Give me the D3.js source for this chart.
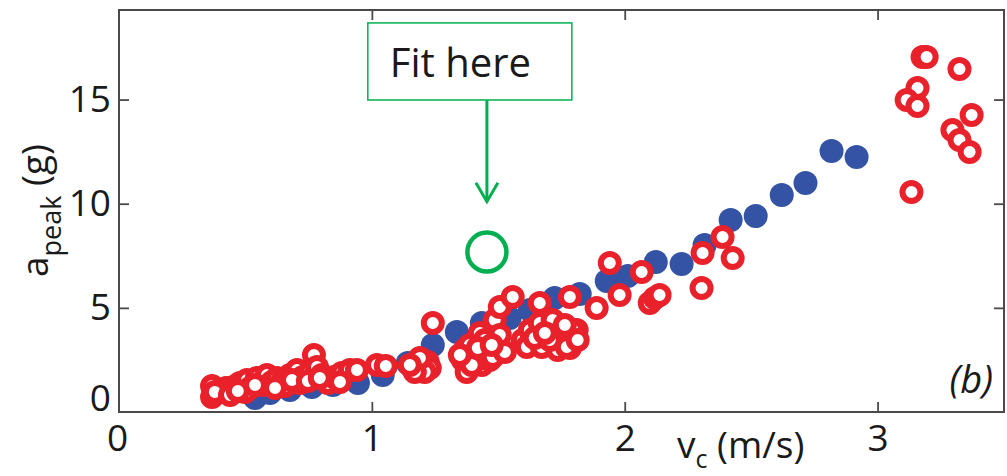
<!DOCTYPE html>
<html>
<head>
<meta charset="utf-8">
<script src="https://cdn.jsdelivr.net/npm/d3@7"></script>
<style>
  html, body { margin: 0; padding: 0; background: #fff; }
  svg { display: block; }
  text { font-family: "Open Sans", sans-serif; fill: #1a1a1a; }
</style>
</head>
<body>
<svg id="chart" width="1007" height="476"></svg>
<script>
// ---- data ----
const xTicks = [0, 1, 2, 3];
const yTicks = [0, 5, 10, 15];
const xDomain = [0, 3.5];
const yDomain = [0, 19.3];

// filled blue series [v_c, a_peak]
const blueX = [0.538,0.597,0.676,0.763,0.846,0.945,1.043,1.142,1.241,1.336,1.435,1.545,1.625,1.723,1.822,1.929,2.012,2.123,2.225,2.316,2.419,2.518,2.621,2.715,2.818,2.917];
const blueY = [0.67,0.91,1.06,1.20,1.30,1.39,1.78,2.35,3.22,3.84,4.27,4.51,4.90,5.47,5.66,6.29,6.53,7.20,7.11,8.02,9.22,9.41,10.42,10.99,12.53,12.24];

// open red series [v_c, a_peak]
const redX = [0.368,0.368,0.399,0.423,0.451,0.478,0.506,0.518,0.545,0.565,0.585,0.605,0.625,0.648,0.676,0.704,0.727,0.755,0.771,0.783,0.802,0.826,0.850,0.881,0.913,0.941,
  0.379,0.439,0.498,0.470,0.538,0.656,0.715,0.684,0.747,0.617,0.874,0.794,
  1.020,1.055,1.162,1.182,1.202,1.221,1.229,1.209,1.170,1.190,1.150,1.241,
  1.360,1.368,1.375,1.387,1.407,1.427,1.435,1.455,1.466,1.478,1.486,1.494,1.506,1.506,1.557,1.526,
  1.395,1.447,1.419,1.474,1.348,
  1.597,1.613,1.625,1.664,1.664,1.672,1.715,1.735,1.743,1.783,1.783,1.810,1.771,1.794,1.814,
  1.644,1.704,1.763,1.684,
  1.889,1.941,1.980,2.067,2.099,2.119,2.138,2.304,2.308,2.387,2.427,
  3.178,3.194,3.324,3.158,3.115,3.158,3.372,3.296,3.324,3.364,3.134];
const redY = [1.25,0.72,0.96,1.15,1.20,1.39,1.54,1.15,1.63,1.30,1.78,1.44,1.63,1.54,1.78,2.02,1.68,1.92,2.74,2.16,1.78,1.39,1.68,1.87,2.02,2.02,
  0.96,0.82,0.96,1.01,1.30,1.25,1.39,1.54,1.49,1.15,1.44,1.63,
  2.26,2.21,2.11,2.40,2.21,2.40,2.11,1.92,1.92,2.59,2.26,4.27,
  2.50,2.98,1.92,3.22,2.69,3.79,2.26,2.98,2.50,2.64,4.42,3.31,5.04,3.70,5.52,2.88,
  2.26,3.46,3.07,3.22,2.74,
  3.46,3.12,3.94,5.23,4.27,3.12,4.42,2.98,3.79,5.52,3.07,3.94,3.12,3.94,3.46,
  3.55,3.46,4.18,3.79,
  4.99,7.15,5.62,6.72,5.23,5.47,5.62,5.95,7.63,8.40,7.39,
  17.04,17.04,16.47,15.55,14.98,14.69,14.26,13.54,13.06,12.48,10.56];

// annotation (data coordinates)
const fitPoint = [1.455, 7.68];
const fitBox = { x0: 0.984, x1: 1.791, y0: 14.98, y1: 18.68, label: "Fit here" };
const arrowFrom = [1.455, 14.98];
const arrowTo = [1.455, 10.1];

// ---- chart ----
const svg = d3.select("#chart");
const L = 119, R = 1004, T = 10, B = 412;
const x = d3.scaleLinear().domain(xDomain).range([L, R]);
const y = d3.scaleLinear().domain(yDomain).range([B, T]);

const axisColor = "#4a4a4a";
const fs = 37;

// axes
const gx = svg.append("g").attr("transform", `translate(0,${B})`)
  .call(d3.axisBottom(x).tickValues(xTicks).tickFormat(d3.format("d")).tickSizeInner(-10).tickSizeOuter(0).tickPadding(13));
const gy = svg.append("g").attr("transform", `translate(${L},0)`)
  .call(d3.axisLeft(y).tickValues(yTicks).tickFormat(d3.format("d")).tickSizeInner(-10).tickSizeOuter(0).tickPadding(8));
const gt = svg.append("g").attr("transform", `translate(0,${T})`)
  .call(d3.axisTop(x).tickValues(xTicks).tickFormat("").tickSizeInner(-10).tickSizeOuter(0));
const gr = svg.append("g").attr("transform", `translate(${R},0)`)
  .call(d3.axisRight(y).tickValues(yTicks).tickFormat("").tickSizeInner(-10).tickSizeOuter(0));

[gx, gy, gt, gr].forEach(g => {
  g.select(".domain").remove();
  g.selectAll(".tick line").attr("stroke", axisColor).attr("stroke-width", 1.8);
  g.selectAll(".tick text").attr("font-size", fs).attr("font-family", "Open Sans, sans-serif").attr("fill", "#1a1a1a");
});
gy.selectAll(".tick").filter(d => d === 0).select("text").attr("dy", "-0.05em");
gx.selectAll(".tick").filter(d => d === 0).select("text").attr("dx", "-0.05em");
[gx, gy, gt, gr].forEach(g => g.selectAll(".tick line").filter(d => d === 0).remove());

// blue filled
const blue = blueX.map((v, i) => [v, blueY[i]]);
svg.append("g").selectAll("circle").data(blue).join("circle")
  .attr("cx", d => x(d[0])).attr("cy", d => y(d[1])).attr("r", 12)
  .attr("fill", "#3453a4");

// red open
const red = redX.map((v, i) => [v, redY[i]]);
svg.append("g").selectAll("circle").data(red).join("circle")
  .attr("cx", d => x(d[0])).attr("cy", d => y(d[1])).attr("r", 9)
  .attr("fill", "#fff").attr("stroke", "#e8212b").attr("stroke-width", 6);

// frame
svg.append("rect").attr("x", L).attr("y", T).attr("width", R - L).attr("height", B - T)
  .attr("fill", "none").attr("stroke", axisColor).attr("stroke-width", 2);

// axis labels
const xl = svg.append("text").attr("x", 677).attr("y", 458).attr("font-size", fs);
xl.append("tspan").text("v");
xl.append("tspan").attr("font-size", 25).attr("dy", 10).text("c");
xl.append("tspan").attr("dy", -10).text(" (m/s)");

const yl = svg.append("text").attr("transform", `translate(48,277) rotate(-90)`).attr("font-size", fs);
yl.append("tspan").text("a");
yl.append("tspan").attr("font-size", 27).attr("dy", 13).text("peak");
yl.append("tspan").attr("dy", -13).text(" (g)");

svg.append("text").attr("x", 993).attr("y", 393).attr("text-anchor", "end")
  .attr("font-size", 38).attr("font-style", "italic").text("(b)");

// annotation
const green = "#00b050";
svg.append("rect").attr("x", x(fitBox.x0)).attr("y", y(fitBox.y1))
  .attr("width", x(fitBox.x1) - x(fitBox.x0)).attr("height", y(fitBox.y0) - y(fitBox.y1))
  .attr("fill", "#fff").attr("stroke", green).attr("stroke-width", 1.5);
svg.append("text").attr("x", x(fitBox.x0) + 22).attr("y", y(fitBox.y1) + 54)
  .attr("font-size", 40).attr("fill", "#000").text(fitBox.label);
svg.append("line").attr("x1", x(arrowFrom[0])).attr("y1", y(arrowFrom[1]))
  .attr("x2", x(arrowTo[0])).attr("y2", y(arrowTo[1]))
  .attr("stroke", green).attr("stroke-width", 3);
const ax = x(arrowTo[0]), ay = y(arrowTo[1]);
svg.append("path").attr("d", `M${ax - 11},${ay - 19} L${ax},${ay} L${ax + 11},${ay - 19}`)
  .attr("fill", "none").attr("stroke", green).attr("stroke-width", 3).attr("stroke-linejoin", "miter");
svg.append("circle").attr("cx", x(fitPoint[0])).attr("cy", y(fitPoint[1])).attr("r", 19.5)
  .attr("fill", "none").attr("stroke", green).attr("stroke-width", 4.5);
</script>
</body>
</html>
